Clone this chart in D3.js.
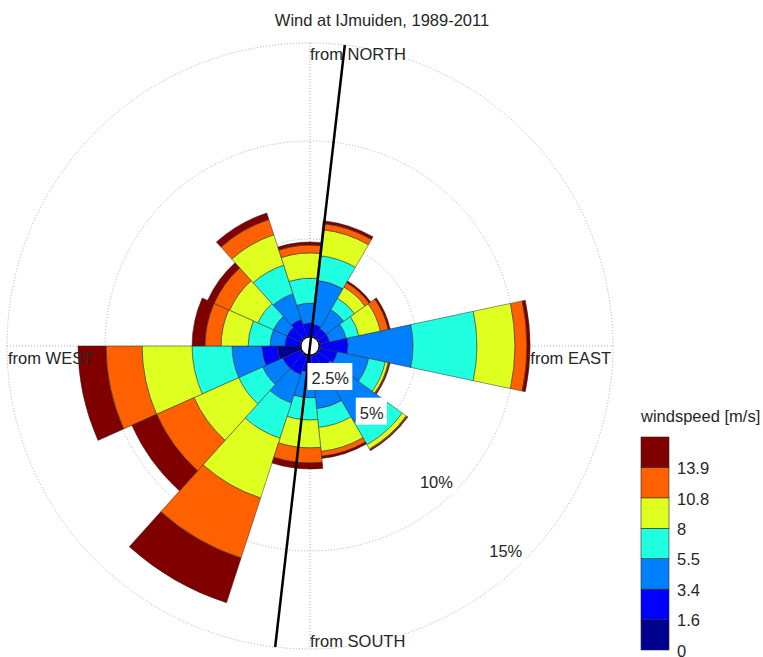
<!DOCTYPE html>
<html lang="en">
<head>
<meta charset="utf-8">
<title>Wind at IJmuiden</title>
<script src="https://d3js.org/d3.v7.min.js"></script>
<style>
    html, body { margin: 0; padding: 0; background: #fff; }
    text { font-family: "Liberation Sans", Arial, sans-serif; font-size: 16.5px; fill: #262626; }
    .grid { fill: none; stroke: #9a9a9a; stroke-width: 0.8; stroke-dasharray: 1,2; }
    .seg { stroke: #2a2a2a; stroke-width: 0.5; }
</style>
</head>
<body>
<script>
// sector centres (bearing, degrees clockwise from north), 15 sectors of 24 deg
var directions = [18, 42, 66, 90, 114, 138, 162, 186, 210, 234, 258, 282, 306, 330, 354];

// frequency (%) per speed class, one value per sector
var speedKeys = ["s0", "s1", "s2", "s3", "s4", "s5", "s6"];
var s0 = [0.05, 0.05, 0.05, 0.10, 0.05, 0.05, 0.05, 0.05, 0.10, 0.10, 1.22, 0.05, 0.05, 0.05, 0.05];
var s1 = [0.61, 0.51, 0.51, 1.38, 0.92, 0.77, 0.87, 0.82, 0.97, 0.97, 0.77, 0.77, 0.77, 0.92, 0.66];
var s2 = [2.25, 1.12, 0.87, 3.32, 1.63, 3.21, 1.84, 1.32, 1.53, 1.12, 1.53, 0.76, 0.76, 1.38, 1.02];
var s3 = [1.27, 0.67, 0.66, 3.26, 0.87, 1.33, 0.96, 1.13, 1.89, 1.33, 2.04, 1.12, 0.87, 1.53, 1.28];
var s4 = [1.33, 0.66, 1.12, 1.94, 0.15, 0.25, 1.23, 1.42, 3.21, 2.50, 2.55, 1.38, 1.58, 1.63, 1.28];
var s5 = [0.31, 0.26, 0.41, 0.61, 0.05, 0.05, 0.25, 0.77, 3.22, 2.09, 1.84, 0.82, 0.87, 0.82, 0.40];
var s6 = [0.15, 0.10, 0.10, 0.16, 0.05, 0.05, 0.11, 0.31, 2.40, 1.38, 1.43, 0.66, 0.36, 0.35, 0.16];

var speedTicks = ["0", "1.6", "3.4", "5.5", "8", "10.8", "13.9"];
var colors = ["#00008f", "#0000ff", "#0080ff", "#20ffdf", "#dfff20", "#ff6000", "#800000"];

var rings = [2.5, 5, 10, 15];
var ringLabels = ["2.5%", "5%", "10%", "15%"];
var compass = ["from NORTH", "from EAST", "from SOUTH", "from WEST"];
var lineBearing = 6.6;   // the black reference line
var sectorWidth = 24;

var w = 763, h = 657;
var cx = 310, cy = 346;
var rHole = 9, rMax = 303;

var svg = d3.select("body").append("svg")
    .attr("width", w)
    .attr("height", h);

var r = d3.scaleLinear().domain([0, 15]).range([rHole, rMax]);
var rad = function(deg) { return deg * Math.PI / 180; };

svg.append("text")
    .attr("x", 382).attr("y", 26)
    .attr("text-anchor", "middle")
    .text("Wind at IJmuiden, 1989-2011");

var g = svg.append("g").attr("transform", "translate(" + cx + "," + cy + ")");

// dotted grid
g.selectAll("circle.grid").data(rings).enter()
    .append("circle").attr("class", "grid")
    .attr("r", function(d) { return r(d); });
g.append("line").attr("class", "grid").attr("x1", -rMax).attr("x2", rMax);
g.append("line").attr("class", "grid").attr("y1", -rMax).attr("y2", rMax);

// stacked sectors
var rows = directions.map(function(d, i) {
    return { dir: d, s0: s0[i], s1: s1[i], s2: s2[i], s3: s3[i], s4: s4[i], s5: s5[i], s6: s6[i] };
});
var stack = d3.stack().keys(speedKeys)(rows);

var arc = d3.arc()
    .innerRadius(function(d) { return r(d[0]); })
    .outerRadius(function(d) { return r(d[1]); })
    .startAngle(function(d) { return rad(d.data.dir - sectorWidth / 2); })
    .endAngle(function(d) { return rad(d.data.dir + sectorWidth / 2); });

stack.forEach(function(layer, k) {
    g.selectAll("path.l" + k)
        .data(layer.filter(function(d) { return d[1] > d[0]; }))
        .enter().append("path")
        .attr("class", "seg l" + k)
        .attr("fill", colors[k])
        .attr("d", arc);
});

// hole
g.append("circle").attr("r", rHole).attr("fill", "#fff").attr("stroke", "#000").attr("stroke-width", 1);

// black line
var lx = Math.sin(rad(lineBearing)) * rMax, ly = -Math.cos(rad(lineBearing)) * rMax;
g.append("line")
    .attr("x1", lx).attr("y1", ly).attr("x2", -lx).attr("y2", -ly)
    .attr("stroke", "#000").attr("stroke-width", 2.5);

// compass labels
svg.append("text").attr("x", cx).attr("y", cy - rMax + 17).text(compass[0]);
svg.append("text").attr("x", cx + rMax - 2).attr("y", cy + 18).attr("text-anchor", "end").text(compass[1]);
svg.append("text").attr("x", cx).attr("y", cy + rMax - 2).text(compass[2]);
svg.append("text").attr("x", cx - rMax + 1).attr("y", cy + 18).text(compass[3]);

// ring labels at 135 deg with white boxes
rings.forEach(function(p, i) {
    var ax = Math.sin(rad(135)) * r(p), ay = -Math.cos(rad(135)) * r(p);
    var lab = g.append("g");
    var t = lab.append("text")
        .attr("x", ax - 2).attr("y", ay - 3)
        .attr("text-anchor", "end")
        .text(ringLabels[i]);
    var bb = t.node().getBBox();
    lab.insert("rect", "text")
        .attr("x", bb.x - 4).attr("y", bb.y - 6)
        .attr("width", bb.width + 7).attr("height", bb.height + 9)
        .attr("fill", "#fff");
});

// colour bar
var cbX = 641, cbW = 28;
var cbY = d3.scaleLinear().domain([0, colors.length]).range([650, 437]);

svg.append("text").attr("x", cbX).attr("y", 422).text("windspeed [m/s]");

svg.selectAll("rect.cb").data(colors).enter()
    .append("rect").attr("class", "cb")
    .attr("x", cbX)
    .attr("y", function(d, i) { return cbY(i + 1); })
    .attr("width", cbW)
    .attr("height", function(d, i) { return cbY(i) - cbY(i + 1); })
    .attr("fill", function(d) { return d; })
    .attr("stroke", "#2a2a2a").attr("stroke-width", 0.6);

svg.selectAll("text.cbt").data(speedTicks).enter()
    .append("text").attr("class", "cbt")
    .attr("x", cbX + cbW + 8)
    .attr("y", function(d, i) { return cbY(i) + 1; })
    .attr("dy", "0.35em")
    .text(function(d) { return d; });
</script>
</body>
</html>
